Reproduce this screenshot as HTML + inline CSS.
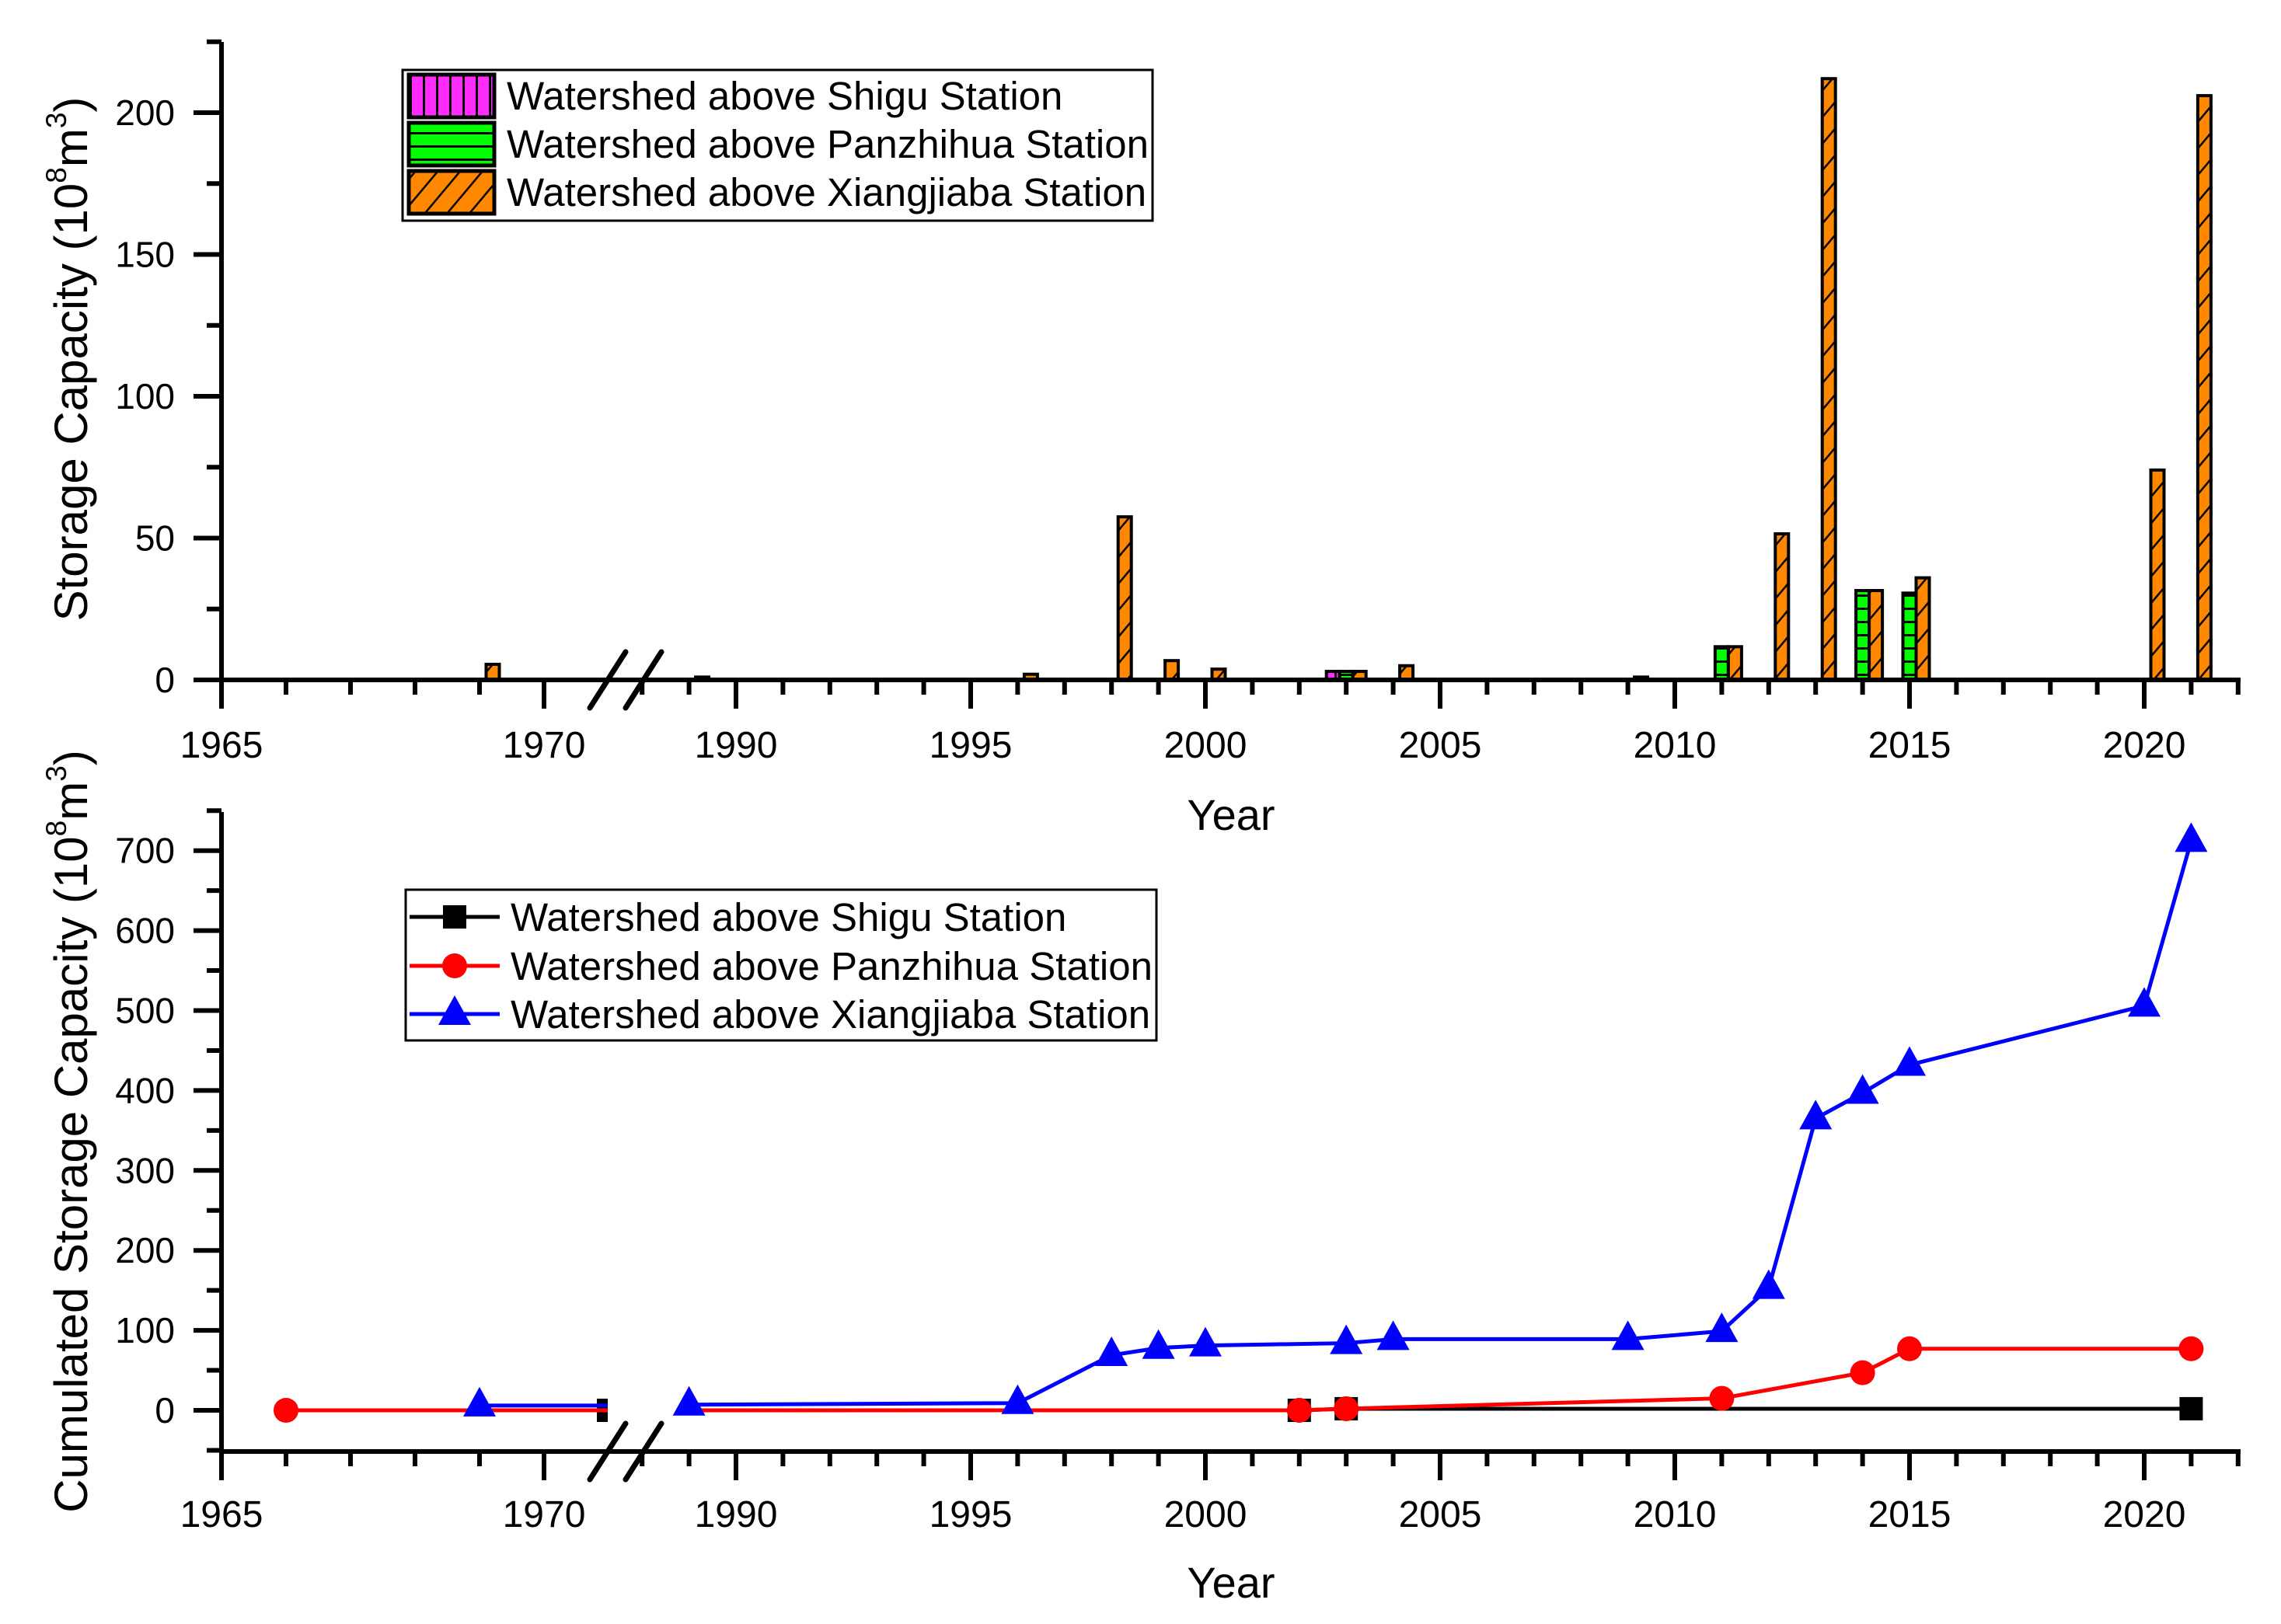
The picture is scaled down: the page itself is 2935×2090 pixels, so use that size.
<!DOCTYPE html>
<html><head><meta charset="utf-8">
<style>
html,body{margin:0;padding:0;background:#fff;}
svg{display:block;}
text{font-family:"Liberation Sans",Arial,sans-serif;fill:#000;}
</style></head>
<body>
<svg id="chart" width="2935" height="2090" viewBox="0 0 2935 2090" xmlns="http://www.w3.org/2000/svg">
<defs>
<pattern id="pMag" patternUnits="userSpaceOnUse" width="17" height="17"><rect width="17" height="17" fill="#ff2bff"/><rect x="0" y="0" width="3" height="17" fill="#000"/></pattern>
<pattern id="pGrn" patternUnits="userSpaceOnUse" width="17" height="17"><rect width="17" height="17" fill="#00ff00"/><rect x="0" y="0" width="17" height="3" fill="#000"/></pattern>
<pattern id="pOrg" patternUnits="userSpaceOnUse" width="22" height="22" patternTransform="rotate(40)"><rect width="22" height="22" fill="#ff8800"/><rect x="0" y="0" width="2.5" height="22" fill="#000"/></pattern>
<clipPath id="clipL"><rect x="270" y="0" width="512" height="2090"/></clipPath>
<clipPath id="clipR"><rect x="827" y="0" width="2108" height="2090"/></clipPath>
</defs>
<g id="topChart"></g>
<g id="botChart"></g>
</svg>
<script>
// ---- data: annual storage capacity (bars) ----
const barYears = [1969,1989,1996,1998,1999,2000,2003,2004,2009,2011,2012,2013,2014,2015,2020,2021];
const shiguBars = [0,0,0,0,0,0,3,0,0,0,0,0,0,0,0,0];
const panzhihuaBars = [0,0,0,0,0,0,3,0,0,11.7,0,0,31.5,30.6,0,0];
const xiangjiabaBars = [5.5,1,2,57.5,6.8,3.8,3,5,1,11.7,51.5,212,31.5,36,74,206];
// ---- data: cumulated storage (lines) ----
const shiguYears = [1971,2002,2003,2021];
const shiguVals = [0,0,2,2];
const panYears = [1966,1971,1989,2002,2003,2011,2014,2015,2021];
const panVals = [0,0,0,0,2,15,47,77,77];
const panMarkers = [true,false,false,true,true,true,true,true,true];
const xiaYears = [1969,1971,1989,1996,1998,1999,2000,2003,2004,2009,2011,2012,2013,2014,2015,2020,2021];
const xiaVals = [6,6,7,9,69,78,81,84,89,89,99,153,365,397,432,506,712];
const xiaMarkers = [true,false,true,true,true,true,true,true,true,true,true,true,true,true,true,true,true];
// ---- tick labels ----
const xMajor = [1965,1970,1990,1995,2000,2005,2010,2015,2020];
const xMinor = [1966,1967,1968,1969,1988,1989,1991,1992,1993,1994,1996,1997,1998,1999,2001,2002,2003,2004,2006,2007,2008,2009,2011,2012,2013,2014,2016,2017,2018,2019,2021,2022];
const topYTicks = [0,50,100,150,200];
const botYTicks = [0,100,200,300,400,500,600,700];
const legendLabels = ["Watershed above Shigu Station","Watershed above Panzhihua Station","Watershed above Xiangjiaba Station"];

const NS="http://www.w3.org/2000/svg";
function mk(parent,tag,attrs,txt){const e=document.createElementNS(NS,tag);for(const k in attrs)e.setAttribute(k,attrs[k]);if(txt!==undefined)e.textContent=txt;parent.appendChild(e);return e;}
function X(y){return y<=1971?285+(y-1965)*83:947+(y-1990)*60.4;}
const topY=v=>875-v*3.65;
const botY=v=>1815-v*1.029;

function axes(g,y0,yTop,yFn,majors,minors,tickLabelY){
  let e=mk(g,'line',{x1:285,y1:yTop,x2:285,y2:y0+3,stroke:'#000','stroke-width':6});
  
  
  majors.forEach(v=>{
    let t=mk(g,'line',{x1:249,x2:285,y1:yFn(v),y2:yFn(v),stroke:'#000','stroke-width':6});
    
    
    let l=mk(g,'text',{x:225,y:yFn(v)+16,'text-anchor':'end','font-size':46},String(v));
    
    
  });
  minors.forEach(v=>{
    let t=mk(g,'line',{x1:266,x2:285,y1:yFn(v),y2:yFn(v),stroke:'#000','stroke-width':6});
    
    
  });
  e=mk(g,'line',{x1:282,y1:y0,x2:2883,y2:y0,stroke:'#000','stroke-width':6});
  
  
  xMajor.forEach(yr=>{
    let t=mk(g,'line',{x1:X(yr),x2:X(yr),y1:y0,y2:y0+37,stroke:'#000','stroke-width':6});
    
    
    let l=mk(g,'text',{x:X(yr),y:tickLabelY,'text-anchor':'middle','font-size':48},String(yr));
    
    
  });
  xMinor.forEach(yr=>{
    let t=mk(g,'line',{x1:X(yr),x2:X(yr),y1:y0,y2:y0+19,stroke:'#000','stroke-width':6});
    
    
  });
  [[759,805],[805,851]].forEach(p=>{
    let b=mk(g,'line',{x1:p[0],y1:y0+36,x2:p[1],y2:y0-36,stroke:'#000','stroke-width':7,'stroke-linecap':'round'});
    
    
  });
}

// ===== TOP CHART =====
const topG=document.getElementById('topChart');
const barFills=['url(#pMag)','url(#pGrn)','url(#pOrg)'];
const barSeries=[shiguBars,panzhihuaBars,xiangjiabaBars];
const barNames=['bar-shigu','bar-panzhihua','bar-xiangjiaba'];
barYears.forEach((yr,i)=>{
  barSeries.forEach((s,k)=>{
    const v=s[i]; if(!v) return;
    const cx=X(yr)+(k-1)*17;
    const r=mk(topG,'rect',{x:cx-8.5,y:topY(v),width:17,height:topY(0)-topY(v),fill:barFills[k],stroke:'#000','stroke-width':4});
    
    
  });
});
axes(topG,875,54,topY,topYTicks,[25,75,125,175,225],975);
let tt=mk(topG,'text',{x:1584,y:1068,'text-anchor':'middle','font-size':56},'Year');


tt=mk(topG,'text',{x:0,y:0,'text-anchor':'middle','font-size':60,transform:'translate(112,462) rotate(-90)'});
mk(tt,'tspan',{},'Storage Capacity (10');
mk(tt,'tspan',{'font-size':37,dy:-27},'8');
mk(tt,'tspan',{dy:27},'m');
mk(tt,'tspan',{'font-size':37,dy:-27},'3');
mk(tt,'tspan',{dy:27},')');


let lg=mk(topG,'g',{});


mk(lg,'rect',{x:518,y:90,width:965,height:194,fill:'#fff',stroke:'#000','stroke-width':3});
const swY=[96,158,220];
legendLabels.forEach((lab,k)=>{
  const s=mk(lg,'rect',{x:526,y:swY[k],width:110,height:55,fill:barFills[k],stroke:'#000','stroke-width':5});
  
  
  const tx=mk(lg,'text',{x:652,y:swY[k]+45,'font-size':51},lab);
  
  
});

// ===== BOTTOM CHART =====
const botG=document.getElementById('botChart');
axes(botG,1868,1045,botY,botYTicks,[-50,50,150,250,350,450,550,650,750],1965);
tt=mk(botG,'text',{x:1584,y:2056,'text-anchor':'middle','font-size':56},'Year');


tt=mk(botG,'text',{x:0,y:0,'text-anchor':'middle','font-size':60,transform:'translate(112,1456) rotate(-90)'});
mk(tt,'tspan',{},'Cumulated Storage Capacity (10');
mk(tt,'tspan',{'font-size':37,dy:-27},'8');
mk(tt,'tspan',{dy:27},'m');
mk(tt,'tspan',{'font-size':37,dy:-27},'3');
mk(tt,'tspan',{dy:27},')');



function marker(g,type,x,y,color,clip){
  let m;
  if(type==='sq') m=mk(g,'rect',{x:x-15,y:y-15,width:30,height:30,fill:color});
  else if(type==='ci') m=mk(g,'circle',{cx:x,cy:y,r:16,fill:color});
  else m=mk(g,'polygon',{points:`${x},${y-24} ${x+21},${y+14} ${x-21},${y+14}`,fill:color});
  if(clip) m.setAttribute('clip-path',clip);
  return m;
}
function series(name,years,vals,marks,color,type){
  const g=mk(botG,'g',{});
  
  
  const left=[],right=[];
  years.forEach((yr,i)=>{(yr<=1971?left:right).push([X(yr),botY(vals[i])]);});
  [[left,'url(#clipL)'],[right,'url(#clipR)']].forEach(([pts,c])=>{
    if(pts.length<2) return;
    const p=mk(g,'polyline',{points:pts.map(q=>q.join(',')).join(' '),fill:'none',stroke:color,'stroke-width':5,'clip-path':c});
    
    
  });
  years.forEach((yr,i)=>{
    if(marks && !marks[i]) return;
    const m=marker(g,type,X(yr),botY(vals[i]),color,yr<=1971?'url(#clipL)':'url(#clipR)');
    
    
  });
}
series('shigu-series',shiguYears,shiguVals,null,'#000','sq');
series('panzhihua-series',panYears,panVals,panMarkers,'#ff0000','ci');
series('xiangjiaba-series',xiaYears,xiaVals,xiaMarkers,'#0000ff','tri');

lg=mk(botG,'g',{});


mk(lg,'rect',{x:522,y:1145,width:966,height:194,fill:'#fff',stroke:'#000','stroke-width':3});
const lrow=[1180,1243,1305];
const lcol=['#000','#ff0000','#0000ff'];
const ltype=['sq','ci','tri'];
legendLabels.forEach((lab,k)=>{
  const l=mk(lg,'line',{x1:527,x2:643,y1:lrow[k],y2:lrow[k],stroke:lcol[k],'stroke-width':5});
  
  
  const m=marker(lg,ltype[k],585,lrow[k],lcol[k]);
  
  
  const tx=mk(lg,'text',{x:657,y:lrow[k]+18,'font-size':51},lab);
  
  
});
</script>
</body></html>
